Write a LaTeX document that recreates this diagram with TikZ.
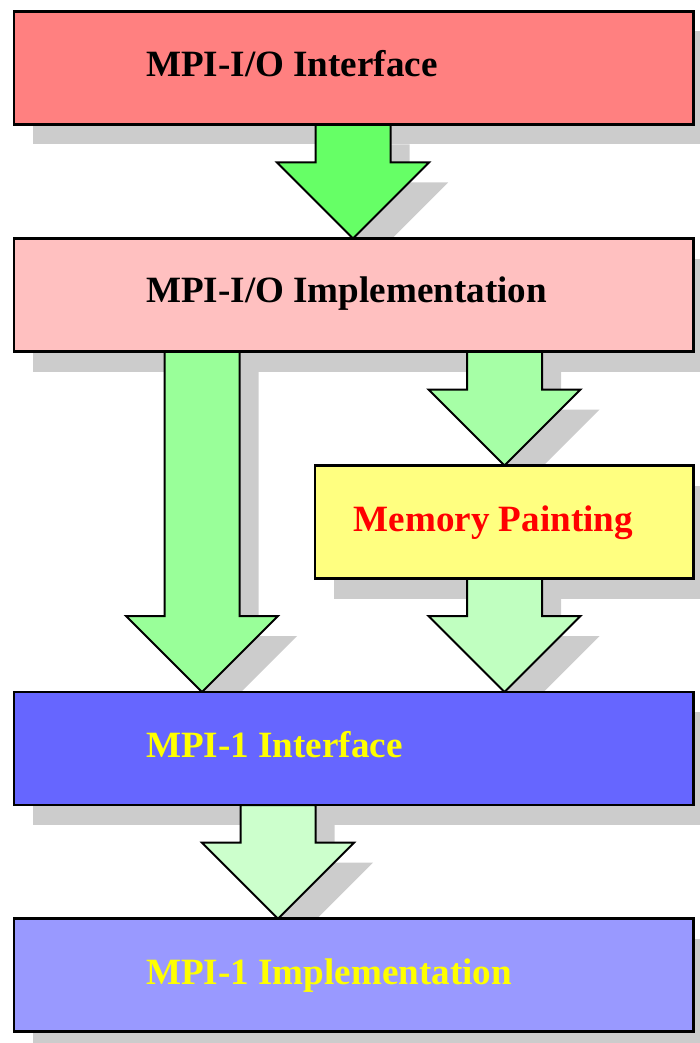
\documentclass[tikz,border=0pt]{standalone}
\usepackage{fontspec}
\setmainfont{Liberation Serif}
\usetikzlibrary{calc}
\definecolor{shadowgray}{HTML}{CCCCCC}
\definecolor{boxA}{HTML}{FF8080}
\definecolor{boxB}{HTML}{FFC0C0}
\definecolor{boxC}{HTML}{FFFF80}
\definecolor{boxD}{HTML}{6666FF}
\definecolor{boxE}{HTML}{9999FF}
\definecolor{arrA}{HTML}{66FF66}
\definecolor{arrB}{HTML}{99FF99}
\definecolor{arrC}{HTML}{A6FFA6}
\definecolor{arrD}{HTML}{C0FFC0}
\definecolor{arrE}{HTML}{CCFFCC}
\definecolor{txtyellow}{HTML}{FFFF00}
\definecolor{txtred}{HTML}{FF0000}
\pgfdeclarelayer{shadowlayer}
\pgfdeclarelayer{arrowlayer}
\pgfsetlayers{shadowlayer,arrowlayer,main}
% #1 style, #2 centre x, #3 from node, #4 to node
\newcommand\blockarrow[4]{%
  \path[#1] let \p1=(#3.south), \p2=(#4.north), \p3=(#2,0) in
    (\x3-37.5pt,\y1) -- (\x3-37.5pt,\y2+76pt) -- (\x3-76pt,\y2+76pt) --
    (\x3,\y2) -- (\x3+76pt,\y2+76pt) -- (\x3+37.5pt,\y2+76pt) --
    (\x3+37.5pt,\y1) -- cycle;}
\begin{document}
\begin{tikzpicture}[x=1pt,y=-1pt,
  box/.style={draw=black, line width=2.8pt, rectangle, inner sep=0pt, outer sep=0pt,
    minimum width=679.5pt, minimum height=113pt, anchor=north west},
  smallbox/.style={box, minimum width=378.5pt},
  lbl/.style={anchor=base west, inner sep=0pt, font=\fontsize{37.1}{40}\selectfont\bfseries},
  blockarr/.style={draw=black, line width=2pt, line join=miter},
  shadowfill/.style={fill=shadowgray, draw=none, transform canvas={shift={(19pt,-20pt)}}}]
\useasboundingbox (0,0) rectangle (699,1043);
% boxes
\node[box, fill=boxA] (b1) at (14,11.5) {};
\node[box, fill=boxB] (b2) at (14,238.5) {};
\node[smallbox, fill=boxC] (b3) at (315,465.5) {};
\node[box, fill=boxD] (b4) at (14,692) {};
\node[box, fill=boxE] (b5) at (14,918.7) {};
% labels
\node[lbl, text=black] (t1) at (146,77) {MPI-I/O Interface};
\node[lbl, text=black] (t2) at (146,302.8) {MPI-I/O Implementation};
\node[lbl, text=txtred] (t3) at (353.5,531.6) {Memory Painting};
\node[lbl, text=txtyellow] (t4) at (146,757.4) {MPI-1 Interface};
\node[lbl, text=txtyellow] (t5) at (146,984) {MPI-1 Implementation};
% shadows
\begin{pgfonlayer}{shadowlayer}
\foreach \b in {b1,b2,b3,b4,b5}
  \fill[shadowfill] (\b.north west) rectangle (\b.south east);
\blockarrow{shadowfill}{353}{b1}{b2}
\blockarrow{shadowfill}{202}{b2}{b4}
\blockarrow{shadowfill}{504.5}{b2}{b3}
\blockarrow{shadowfill}{504.5}{b3}{b4}
\blockarrow{shadowfill}{278}{b4}{b5}
\end{pgfonlayer}
% block arrows
\begin{pgfonlayer}{arrowlayer}
\blockarrow{blockarr, fill=arrA}{353}{b1}{b2}
\blockarrow{blockarr, fill=arrB}{202}{b2}{b4}
\blockarrow{blockarr, fill=arrC}{504.5}{b2}{b3}
\blockarrow{blockarr, fill=arrD}{504.5}{b3}{b4}
\blockarrow{blockarr, fill=arrE}{278}{b4}{b5}
\end{pgfonlayer}
\end{tikzpicture}
\end{document}
